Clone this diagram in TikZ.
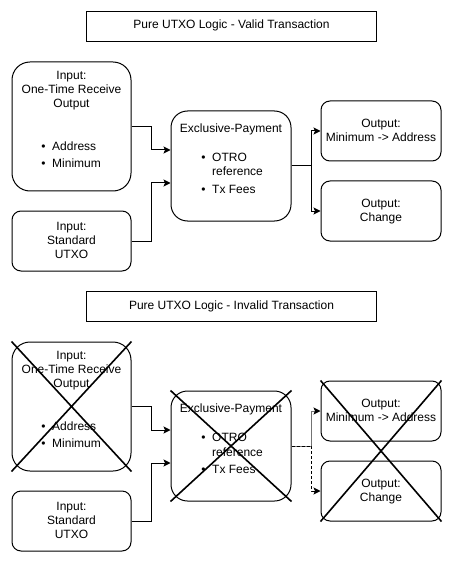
\documentclass[tikz,border=0pt]{standalone}
\usepackage{fontspec}
\setmainfont{Liberation Sans}
\usetikzlibrary{arrows.meta,calc}
\tikzset{
  box/.style={draw=black,line width=1pt,rounded corners=#1,inner sep=0pt,fill=white},
  box/.default=9pt,
  titlebox/.style={draw=black,line width=1pt,inner sep=0pt,minimum width=290pt,minimum height=30pt},
  txt/.style={anchor=base,inner sep=0pt,font=\fontsize{12}{14}\selectfont},
  ltxt/.style={anchor=base west,inner sep=0pt,font=\fontsize{12}{14}\selectfont},
  conn/.style={draw=black,line width=1pt,-{Stealth[length=7pt,width=7pt,inset=1.5pt,color=black,line width=1pt]}},
  xline/.style={draw=black,line width=1.6pt},
}
\newcommand{\utxosection}[3]{%
  \begin{scope}[shift={(0,#3)}]
    \node[titlebox] (title#1) at (231.5,26.5) {};
    \node[txt] (titletxt#1) at (231.5,29) {#2};
    \node[box=18pt,minimum width=119pt,minimum height=129pt] (otr#1) at (71.5,126.5) {};
    \node[box=9pt,minimum width=119pt,minimum height=60pt] (std#1) at (71.5,241) {};
    \node[box=16.5pt,minimum width=120pt,minimum height=110pt] (ex#1) at (231,166) {};
    \node[box=9pt,minimum width=120pt,minimum height=60pt] (omin#1) at (381,131) {};
    \node[box=9pt,minimum width=120pt,minimum height=60pt] (ochg#1) at (381,211) {};
    % texts
    \node[txt] (otrA#1) at (71.5,79.5) {Input:};
    \node[txt] (otrB#1) at (71.5,93.5) {One-Time Receive};
    \node[txt] (otrC#1) at (71.5,107.5) {Output};
    \node[txt] (otrD#1) at (43.5,150.5) {•};
    \node[ltxt] (otrE#1) at (52,150.5) {Address};
    \node[txt] (otrF#1) at (43.5,167.5) {•};
    \node[ltxt] (otrG#1) at (52,167.5) {Minimum};
    \node[txt] (stdA#1) at (71.5,230.5) {Input:};
    \node[txt] (stdB#1) at (71.5,244.5) {Standard};
    \node[txt] (stdC#1) at (71.5,258) {UTXO};
    \node[txt] (exA#1) at (231,132.5) {Exclusive-Payment};
    \node[txt] (exB#1) at (203.5,161.5) {•};
    \node[ltxt] (exC#1) at (212,161.5) {OTRO};
    \node[ltxt] (exD#1) at (212,176) {reference};
    \node[txt] (exE#1) at (203.5,193.5) {•};
    \node[ltxt] (exF#1) at (212,193.5) {Tx Fees};
    \node[txt] (ominA#1) at (381,127.5) {Output:};
    \node[txt] (ominB#1) at (381,141.5) {Minimum -> Address};
    \node[txt] (ochgA#1) at (381,207.5) {Output:};
    \node[txt] (ochgB#1) at (381,221.5) {Change};
    % input connectors
    \draw[conn] (otr#1.east) -- ++(20,0) |- ([yshift=16pt]ex#1.west);
    \draw[conn] (std#1.east) -- ++(20,0) |- ([yshift=-17pt]ex#1.west);
  \end{scope}}
\begin{document}
\begin{tikzpicture}[x=1pt,y=-1pt]
  \useasboundingbox[fill=white] (0,0) rectangle (463,569);
  \utxosection{v}{Pure UTXO Logic - Valid Transaction}{0}
  \draw[conn] (exv.east) -- ++(20,0) |- (ominv.west);
  \draw[conn] (exv.east) -- ++(20,0) |- (ochgv.west);
  \utxosection{i}{Pure UTXO Logic - Invalid Transaction}{280}
  \draw[conn,draw=black!55,line width=0.8pt] (exi.east) -- ++(20,0) |- (omini.west);
  \draw[conn,dashed,dash pattern=on 3pt off 2pt] (exi.east) -- ++(20,0) |- (ochgi.west);
  % crosses
  \draw[xline] (otri.north west) -- (otri.south east) (otri.north east) -- (otri.south west);
  \draw[xline] (exi.north west) -- (exi.south east) (exi.north east) -- (exi.south west);
  \draw[xline] (omini.north west) -- (ochgi.south east) (omini.north east) -- (ochgi.south west);
\end{tikzpicture}
\end{document}
